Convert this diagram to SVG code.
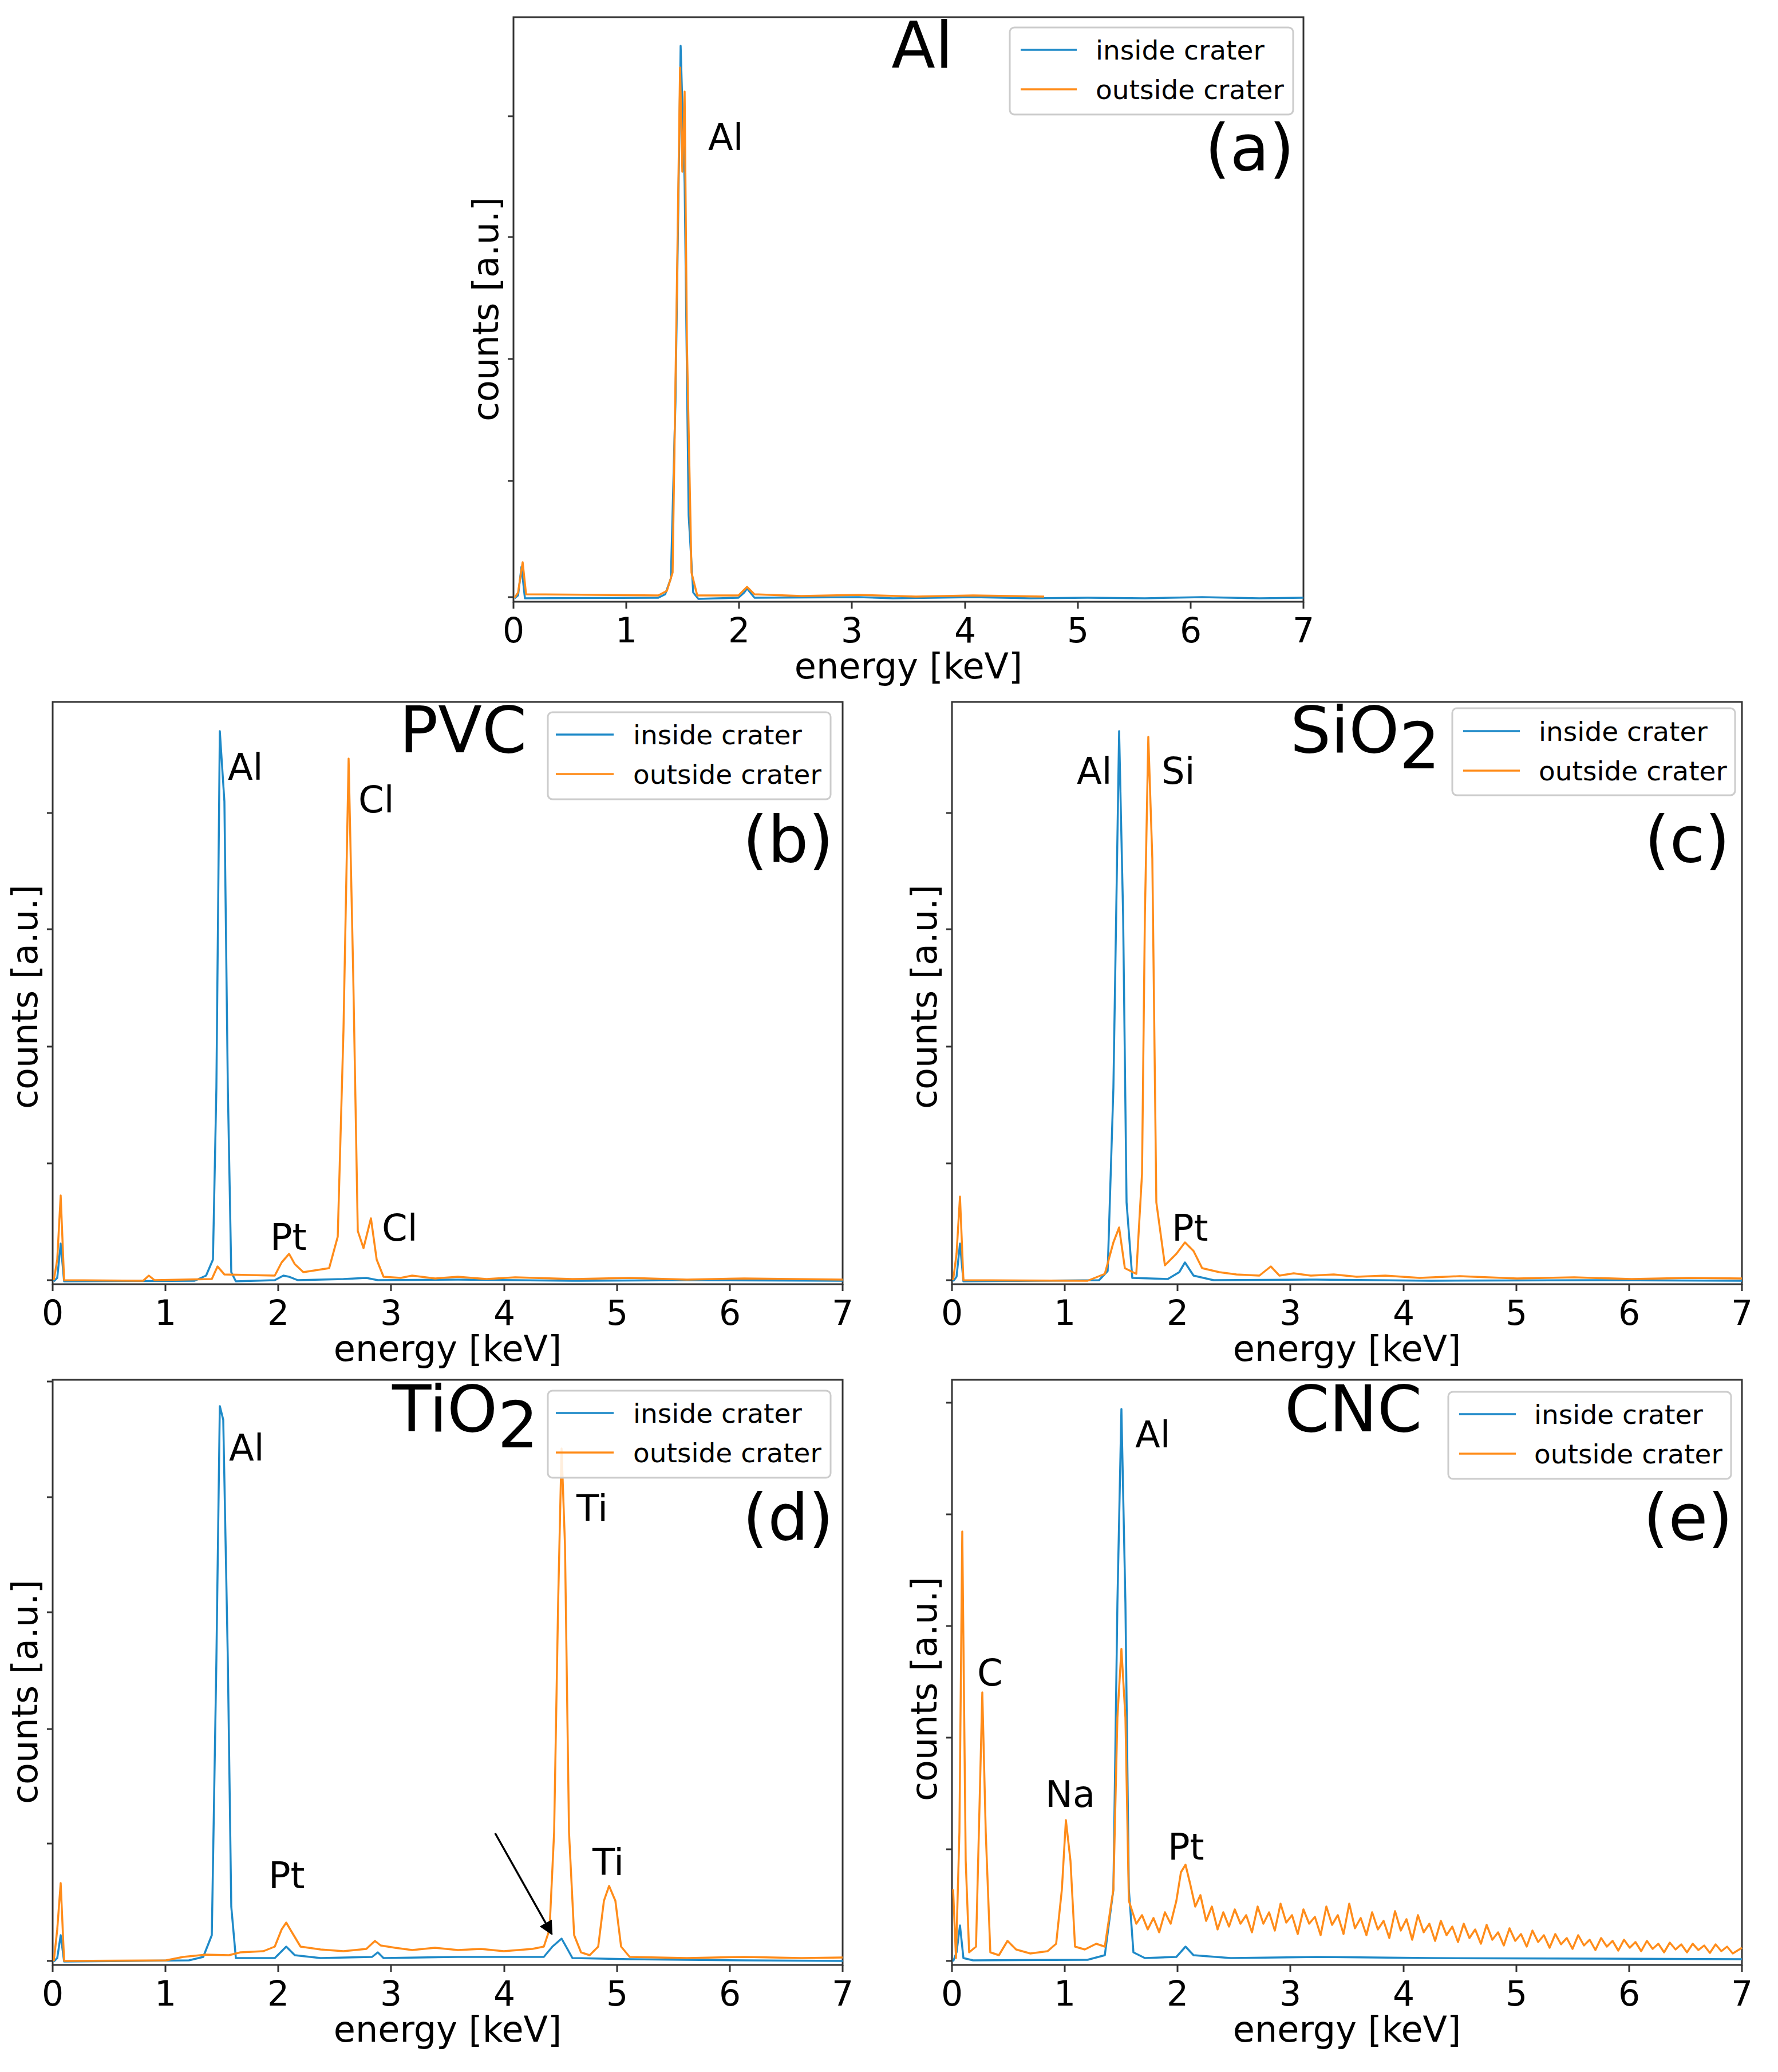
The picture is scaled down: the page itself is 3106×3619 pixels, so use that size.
<svg xmlns="http://www.w3.org/2000/svg" width="3106" height="3619" viewBox="0 0 3106 3619">
<style>
text{font-family:"DejaVu Sans",sans-serif;fill:#000}
.frame{fill:none;stroke:#333;stroke-width:3}
.tk{stroke:#333;stroke-width:3}
.tl{font-size:60px;text-anchor:middle}
.ax{font-size:62px;text-anchor:middle}
.lg{font-size:47px}
.lab{font-size:64px}
.ttl{font-size:112px}
.pl{font-size:112px;text-anchor:end}
.box{fill:#fff;fill-opacity:0.85;stroke:#ccc;stroke-width:3}
.b{fill:none;stroke:#1f8ac8;stroke-width:3.5;stroke-linejoin:round}
.o{fill:none;stroke:#ff8c1a;stroke-width:3.5;stroke-linejoin:round}
</style>
<defs>
<marker id="ah" viewBox="0 0 10 10" refX="9" refY="5" markerWidth="7" markerHeight="7" orient="auto"><path d="M0,0 L10,5 L0,10 z" fill="#000"/></marker>
<g id="xt">
<line class="tk" x1="0" y1="0" x2="0" y2="12"/><line class="tk" x1="197" y1="0" x2="197" y2="12"/><line class="tk" x1="394" y1="0" x2="394" y2="12"/><line class="tk" x1="591" y1="0" x2="591" y2="12"/><line class="tk" x1="789" y1="0" x2="789" y2="12"/><line class="tk" x1="986" y1="0" x2="986" y2="12"/><line class="tk" x1="1183" y1="0" x2="1183" y2="12"/><line class="tk" x1="1380" y1="0" x2="1380" y2="12"/>
<text class="tl" x="0" y="71">0</text><text class="tl" x="197" y="71">1</text><text class="tl" x="394" y="71">2</text><text class="tl" x="591" y="71">3</text><text class="tl" x="789" y="71">4</text><text class="tl" x="986" y="71">5</text><text class="tl" x="1183" y="71">6</text><text class="tl" x="1380" y="71">7</text>
<text class="ax" x="690" y="134">energy [keV]</text>
</g>
</defs>

<g id="panel-a">
<rect class="frame" x="897" y="30" width="1380" height="1021"/>
<use href="#xt" x="897" y="1051"/>
<g class="tk"><line x1="897" y1="1043" x2="887" y2="1043"/><line x1="897" y1="840" x2="887" y2="840"/><line x1="897" y1="627" x2="887" y2="627"/><line x1="897" y1="414" x2="887" y2="414"/><line x1="897" y1="203" x2="887" y2="203"/></g>
<text class="ax" transform="translate(870,540) rotate(-90)">counts [a.u.]</text>
<path class="b" d="M899,1045 L905,1040 L911,990 L917,1045 L1150,1044 L1162,1038 L1172,1010 L1180,700 L1189,80 L1196,320 L1203,900 L1211,1035 L1220,1046 L1290,1044 L1300,1035 L1305,1028 L1318,1044 L1500,1043 L1560,1045 L1700,1043 L1800,1045 L1900,1044 L2000,1045 L2100,1043 L2200,1045 L2277,1044"/>
<path class="o" d="M899,1044 L905,1035 L913,982 L919,1038 L1150,1040 L1165,1032 L1175,1000 L1181,600 L1188,118 L1192,300 L1196,160 L1200,600 L1208,1000 L1218,1040 L1290,1040 L1305,1025 L1318,1038 L1400,1041 L1500,1039 L1600,1042 L1700,1040 L1824,1042"/>
<text class="lab" x="1237" y="262">Al</text>
<text class="ttl" x="1611" y="118" text-anchor="middle">Al</text>
<rect class="box" x="1764" y="48" width="495" height="152" rx="8"/>
<line class="b" x1="1783" y1="87" x2="1881" y2="87"/><line class="o" x1="1783" y1="156" x2="1881" y2="156"/>
<text class="lg" x="1914" y="104">inside crater</text><text class="lg" x="1914" y="173">outside crater</text>
<text class="pl" x="2261" y="297">(a)</text>
</g>

<g id="panel-b">
<rect class="frame" x="92" y="1226" width="1380" height="1017"/>
<use href="#xt" x="92" y="2243"/>
<g class="tk"><line x1="92" y1="2236" x2="82" y2="2236"/><line x1="92" y1="2032" x2="82" y2="2032"/><line x1="92" y1="1828" x2="82" y2="1828"/><line x1="92" y1="1623" x2="82" y2="1623"/><line x1="92" y1="1420" x2="82" y2="1420"/></g>
<text class="ax" transform="translate(65,1741) rotate(-90)">counts [a.u.]</text>
<path class="b" d="M94,2238 L100,2232 L106,2172 L112,2238 L340,2237 L360,2228 L372,2200 L378,1900 L384,1277 L392,1400 L398,1900 L404,2222 L412,2238 L480,2236 L495,2228 L505,2230 L520,2236 L600,2234 L640,2232 L660,2236 L800,2235 L1000,2237 L1200,2236 L1472,2237"/>
<path class="o" d="M94,2236 L100,2200 L106,2088 L112,2236 L250,2237 L260,2228 L270,2236 L370,2234 L380,2212 L392,2226 L480,2228 L492,2205 L505,2190 L515,2208 L530,2222 L575,2215 L590,2160 L600,1800 L609,1325 L617,1700 L625,2150 L635,2180 L648,2128 L658,2200 L670,2230 L700,2232 L720,2228 L760,2233 L800,2230 L850,2234 L900,2231 L1000,2234 L1100,2232 L1200,2235 L1300,2233 L1472,2235"/>
<text class="lab" x="398" y="1362">Al</text><text class="lab" x="626" y="1419">Cl</text><text class="lab" x="472" y="2183">Pt</text><text class="lab" x="667" y="2167">Cl</text>
<text class="ttl" x="809" y="1314" text-anchor="middle">PVC</text>
<rect class="box" x="957" y="1244" width="494" height="152" rx="8"/>
<line class="b" x1="971" y1="1283" x2="1072" y2="1283"/><line class="o" x1="971" y1="1352" x2="1072" y2="1352"/>
<text class="lg" x="1106" y="1300">inside crater</text><text class="lg" x="1106" y="1369">outside crater</text>
<text class="pl" x="1456" y="1505">(b)</text>
</g>

<g id="panel-c">
<rect class="frame" x="1663" y="1226" width="1380" height="1017"/>
<use href="#xt" x="1663" y="2243"/>
<g class="tk"><line x1="1663" y1="2236" x2="1653" y2="2236"/><line x1="1663" y1="2032" x2="1653" y2="2032"/><line x1="1663" y1="1828" x2="1653" y2="1828"/><line x1="1663" y1="1623" x2="1653" y2="1623"/><line x1="1663" y1="1420" x2="1653" y2="1420"/></g>
<text class="ax" transform="translate(1636,1741) rotate(-90)">counts [a.u.]</text>
<path class="b" d="M1665,2238 L1671,2230 L1677,2172 L1683,2238 L1920,2236 L1935,2220 L1945,1900 L1955,1277 L1962,1600 L1968,2100 L1978,2232 L2040,2234 L2060,2222 L2070,2205 L2085,2228 L2120,2236 L2300,2235 L2500,2237 L2800,2236 L3043,2237"/>
<path class="o" d="M1665,2236 L1671,2190 L1677,2090 L1683,2236 L1900,2237 L1930,2225 L1945,2170 L1955,2144 L1965,2215 L1985,2225 L1995,2050 L2000,1600 L2006,1287 L2013,1500 L2020,2100 L2035,2210 L2055,2190 L2070,2170 L2085,2185 L2100,2215 L2130,2222 L2160,2226 L2200,2228 L2220,2212 L2235,2228 L2260,2224 L2290,2228 L2330,2226 L2370,2230 L2420,2228 L2480,2232 L2550,2229 L2650,2233 L2750,2231 L2850,2234 L2950,2232 L3043,2233"/>
<text class="lab" x="1881" y="1369">Al</text><text class="lab" x="2029" y="1369">Si</text><text class="lab" x="2047" y="2167">Pt</text>
<text class="ttl" x="2254" y="1314">SiO<tspan dy="28">2</tspan></text>
<rect class="box" x="2537" y="1237" width="494" height="152" rx="8"/>
<line class="b" x1="2556" y1="1277" x2="2655" y2="1277"/><line class="o" x1="2556" y1="1346" x2="2655" y2="1346"/>
<text class="lg" x="2688" y="1294">inside crater</text><text class="lg" x="2688" y="1363">outside crater</text>
<text class="pl" x="3022" y="1505">(c)</text>
</g>

<g id="panel-d">
<rect class="frame" x="92" y="2410" width="1380" height="1022"/>
<use href="#xt" x="92" y="3432"/>
<g class="tk"><line x1="92" y1="3425" x2="82" y2="3425"/><line x1="92" y1="3220" x2="82" y2="3220"/><line x1="92" y1="3020" x2="82" y2="3020"/><line x1="92" y1="2816" x2="82" y2="2816"/><line x1="92" y1="2615" x2="82" y2="2615"/><line x1="92" y1="2413" x2="82" y2="2413"/></g>
<text class="ax" transform="translate(65,2955) rotate(-90)">counts [a.u.]</text>
<path class="b" d="M94,3426 L100,3420 L106,3380 L112,3426 L330,3424 L355,3418 L370,3380 L378,2900 L384,2456 L390,2480 L398,2900 L404,3330 L412,3420 L480,3420 L495,3405 L500,3400 L515,3415 L560,3420 L650,3418 L660,3410 L670,3420 L800,3418 L950,3418 L965,3400 L981,3386 L990,3402 L1000,3420 L1100,3422 L1300,3424 L1472,3425"/>
<path class="o" d="M94,3425 L100,3370 L106,3289 L112,3425 L290,3424 L320,3418 L360,3414 L400,3415 L420,3410 L460,3408 L480,3400 L492,3370 L500,3358 L510,3375 L525,3400 L560,3405 L600,3408 L640,3404 L655,3390 L665,3398 L690,3402 L720,3406 L760,3402 L800,3406 L840,3404 L880,3408 L930,3404 L950,3400 L960,3370 L968,3200 L975,2800 L981,2530 L987,2700 L994,3200 L1003,3380 L1015,3410 L1030,3415 L1045,3400 L1055,3320 L1064,3294 L1075,3320 L1085,3400 L1100,3418 L1200,3420 L1300,3418 L1400,3420 L1472,3419"/>
<line x1="865" y1="3202" x2="964" y2="3378" stroke="#000" stroke-width="3.5" marker-end="url(#ah)"/>
<text class="lab" x="400" y="2551">Al</text><text class="lab" x="1007" y="2657">Ti</text><text class="lab" x="469" y="3298">Pt</text><text class="lab" x="1035" y="3275">Ti</text>
<text class="ttl" x="685" y="2500">TiO<tspan dy="28">2</tspan></text>
<rect class="box" x="957" y="2429" width="494" height="152" rx="8"/>
<line class="b" x1="971" y1="2468" x2="1072" y2="2468"/><line class="o" x1="971" y1="2537" x2="1072" y2="2537"/>
<text class="lg" x="1106" y="2485">inside crater</text><text class="lg" x="1106" y="2554">outside crater</text>
<text class="pl" x="1456" y="2689">(d)</text>
</g>

<g id="panel-e">
<rect class="frame" x="1663" y="2410" width="1380" height="1022"/>
<use href="#xt" x="1663" y="3432"/>
<g class="tk"><line x1="1663" y1="3425" x2="1653" y2="3425"/><line x1="1663" y1="3230" x2="1653" y2="3230"/><line x1="1663" y1="3035" x2="1653" y2="3035"/><line x1="1663" y1="2840" x2="1653" y2="2840"/><line x1="1663" y1="2645" x2="1653" y2="2645"/><line x1="1663" y1="2450" x2="1653" y2="2450"/></g>
<text class="ax" transform="translate(1636,2950) rotate(-90)">counts [a.u.]</text>
<path class="b" d="M1665,3426 L1671,3410 L1677,3363 L1683,3420 L1700,3424 L1900,3423 L1930,3415 L1945,3300 L1952,2800 L1959,2461 L1966,2800 L1972,3300 L1980,3410 L2000,3420 L2055,3418 L2071,3400 L2085,3415 L2150,3420 L2300,3418 L2500,3420 L2800,3421 L3043,3422"/>
<path class="o" d="M1665,3300 L1670,3420 L1676,3200 L1681,2675 L1687,3250 L1693,3410 L1705,3400 L1710,3200 L1716,2956 L1722,3200 L1730,3410 L1745,3415 L1760,3390 L1775,3405 L1800,3412 L1830,3408 L1845,3395 L1855,3300 L1862,3179 L1870,3250 L1878,3400 L1895,3405 L1915,3395 L1930,3400 L1945,3300 L1952,3000 L1959,2880 L1966,3000 L1972,3320 L1985,3360 L1995,3345 L2005,3370 L2015,3350 L2025,3375 L2035,3340 L2045,3360 L2055,3320 L2063,3270 L2071,3257 L2079,3290 L2088,3330 L2097,3310 L2107,3355 L2117,3330 L2127,3370 L2137,3340 L2147,3365 L2157,3335 L2167,3360 L2177,3345 L2187,3375 L2197,3330 L2207,3360 L2217,3340 L2227,3372 L2237,3325 L2247,3358 L2257,3345 L2267,3378 L2277,3335 L2287,3360 L2297,3348 L2307,3380 L2317,3330 L2327,3362 L2337,3345 L2347,3378 L2357,3325 L2367,3368 L2377,3350 L2387,3380 L2397,3340 L2407,3370 L2417,3355 L2427,3385 L2437,3338 L2447,3372 L2457,3352 L2467,3388 L2477,3345 L2487,3375 L2497,3360 L2507,3390 L2517,3355 L2527,3380 L2537,3365 L2547,3392 L2557,3360 L2567,3385 L2577,3370 L2587,3395 L2597,3362 L2607,3388 L2617,3375 L2627,3398 L2637,3368 L2647,3390 L2657,3378 L2667,3400 L2677,3372 L2687,3392 L2697,3380 L2707,3402 L2717,3378 L2727,3396 L2737,3385 L2747,3404 L2757,3380 L2767,3398 L2777,3388 L2787,3406 L2797,3385 L2807,3400 L2817,3390 L2827,3407 L2837,3388 L2847,3402 L2857,3392 L2867,3408 L2877,3390 L2887,3404 L2897,3395 L2907,3410 L2917,3393 L2927,3405 L2937,3396 L2947,3410 L2957,3395 L2967,3406 L2977,3398 L2987,3411 L2997,3396 L3007,3408 L3017,3400 L3027,3412 L3043,3402"/>
<text class="lab" x="1983" y="2528">Al</text><text class="lab" x="1707" y="2944">C</text><text class="lab" x="1826" y="3156">Na</text><text class="lab" x="2040" y="3248">Pt</text>
<text class="ttl" x="2364" y="2500" text-anchor="middle">CNC</text>
<rect class="box" x="2530" y="2431" width="494" height="152" rx="8"/>
<line class="b" x1="2549" y1="2470" x2="2648" y2="2470"/><line class="o" x1="2549" y1="2539" x2="2648" y2="2539"/>
<text class="lg" x="2680" y="2487">inside crater</text><text class="lg" x="2680" y="2556">outside crater</text>
<text class="pl" x="3027" y="2689">(e)</text>
</g>
</svg>
